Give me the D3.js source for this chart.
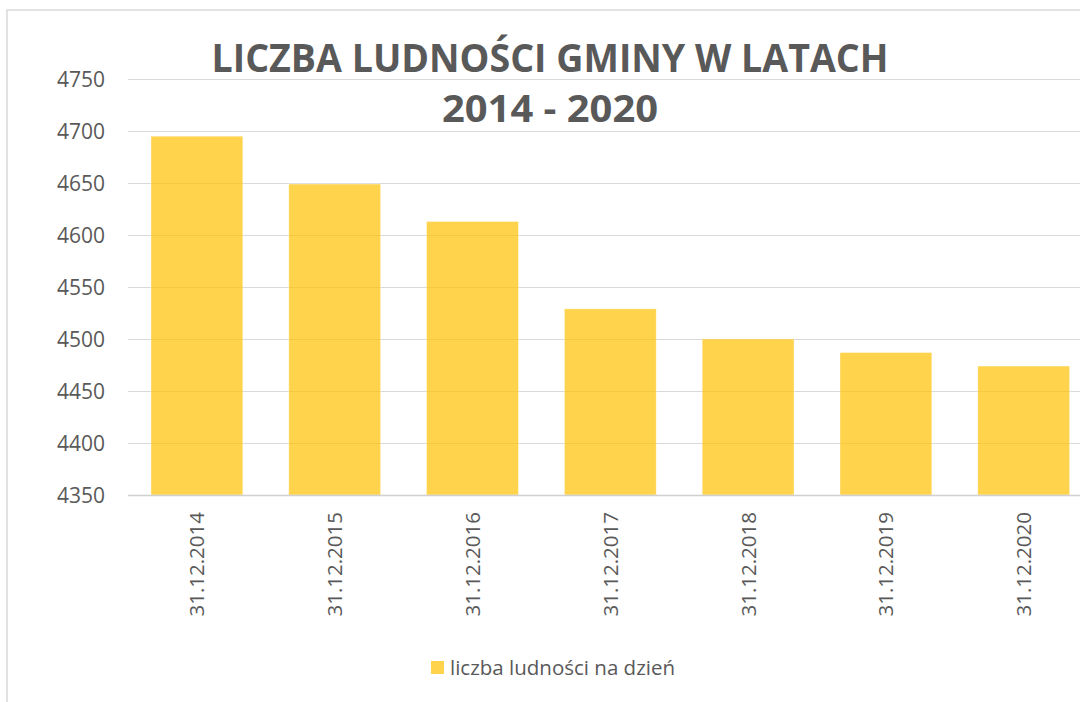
<!DOCTYPE html>
<html>
<head>
<meta charset="utf-8">
<script src="https://cdn.jsdelivr.net/npm/d3@7"></script>
<style>
  html, body { margin: 0; padding: 0; background: #fff; }
  svg { display: block; }
</style>
</head>
<body>
<div id="chart"></div>
<script>
const categories = ['31.12.2014', '31.12.2015', '31.12.2016', '31.12.2017', '31.12.2018', '31.12.2019', '31.12.2020'];
const values     = [4695, 4649, 4613, 4529, 4500, 4487, 4474];
const yTicks     = [4350, 4400, 4450, 4500, 4550, 4600, 4650, 4700, 4750];
const titleLines = ['LICZBA LUDNOŚCI GMINY W LATACH', '2014 - 2020'];
const seriesName = 'liczba ludności na dzień';

const W = 1080, H = 702;
const textCol = '#595959';
const font = '"Open Sans", "Noto Sans", sans-serif';

const svg = d3.select('#chart').append('svg').attr('width', W).attr('height', H);

// chart frame (runs off the right and bottom edge like the screenshot)
svg.append('rect')
  .attr('x', 7).attr('y', 10).attr('width', W + 20).attr('height', H + 20)
  .attr('fill', '#fff').attr('stroke', '#d9d9d9').attr('stroke-width', 1.5);

const plotL = 128, plotT = 79, plotB = 495;
const step = 137.8;
const x = d3.scaleBand().domain(categories)
  .range([plotL, plotL + step * categories.length])
  .paddingInner(1 / 3).paddingOuter(1 / 6);
const y = d3.scaleLinear().domain([4350, 4750]).range([plotB, plotT]);

// gridlines
svg.append('g').selectAll('line').data(yTicks.slice(1)).join('line')
  .attr('x1', plotL).attr('x2', W)
  .attr('y1', d => Math.round(y(d)) + 0.5).attr('y2', d => Math.round(y(d)) + 0.5)
  .attr('stroke', '#d9d9d9').attr('stroke-width', 1.2);

// y tick labels
svg.append('g').selectAll('text').data(yTicks).join('text')
  .attr('x', 105).attr('y', d => y(d) + 7.5)
  .attr('text-anchor', 'end')
  .attr('font-family', font).attr('font-size', 21).attr('fill', textCol)
  .text(d => d);

// bars
svg.append('g').selectAll('rect').data(values).join('rect')
  .attr('x', (d, i) => x(categories[i]))
  .attr('width', x.bandwidth())
  .attr('y', d => y(d))
  .attr('height', d => y(4350) - y(d))
  .attr('fill', '#FFC000').attr('fill-opacity', 0.7)
  .attr('stroke', '#fff').attr('stroke-opacity', 0.5).attr('stroke-width', 0.75);

// category axis line
svg.append('line')
  .attr('x1', plotL).attr('x2', W)
  .attr('y1', plotB + 0.5).attr('y2', plotB + 0.5)
  .attr('stroke', '#d0d0d0').attr('stroke-width', 1.5);

// x labels, rotated
svg.append('g').selectAll('text').data(categories).join('text')
  .attr('transform', d => `translate(${x(d) + x.bandwidth() / 2 + 7.5},512) rotate(-90)`)
  .attr('text-anchor', 'end')
  .attr('font-family', font).attr('font-size', 20.5).attr('fill', textCol)
  .text(d => d);

// title
svg.append('text')
  .attr('x', 550).attr('y', 72).attr('text-anchor', 'middle')
  .attr('font-family', font).attr('font-weight', 700).attr('font-size', 39)
  .attr('fill', textCol)
  .attr('textLength', 677).attr('lengthAdjust', 'spacingAndGlyphs')
  .text(titleLines[0]);
svg.append('text')
  .attr('x', 550).attr('y', 122).attr('text-anchor', 'middle')
  .attr('font-family', font).attr('font-weight', 700).attr('font-size', 38)
  .attr('fill', textCol)
  .attr('textLength', 216).attr('lengthAdjust', 'spacingAndGlyphs')
  .text(titleLines[1]);

// legend
svg.append('rect')
  .attr('x', 431).attr('y', 661).attr('width', 13).attr('height', 13)
  .attr('fill', '#FFC000').attr('fill-opacity', 0.7);
svg.append('text')
  .attr('x', 450).attr('y', 675)
  .attr('font-family', font).attr('font-size', 20.5).attr('fill', textCol)
  .text(seriesName);
</script>
</body>
</html>
